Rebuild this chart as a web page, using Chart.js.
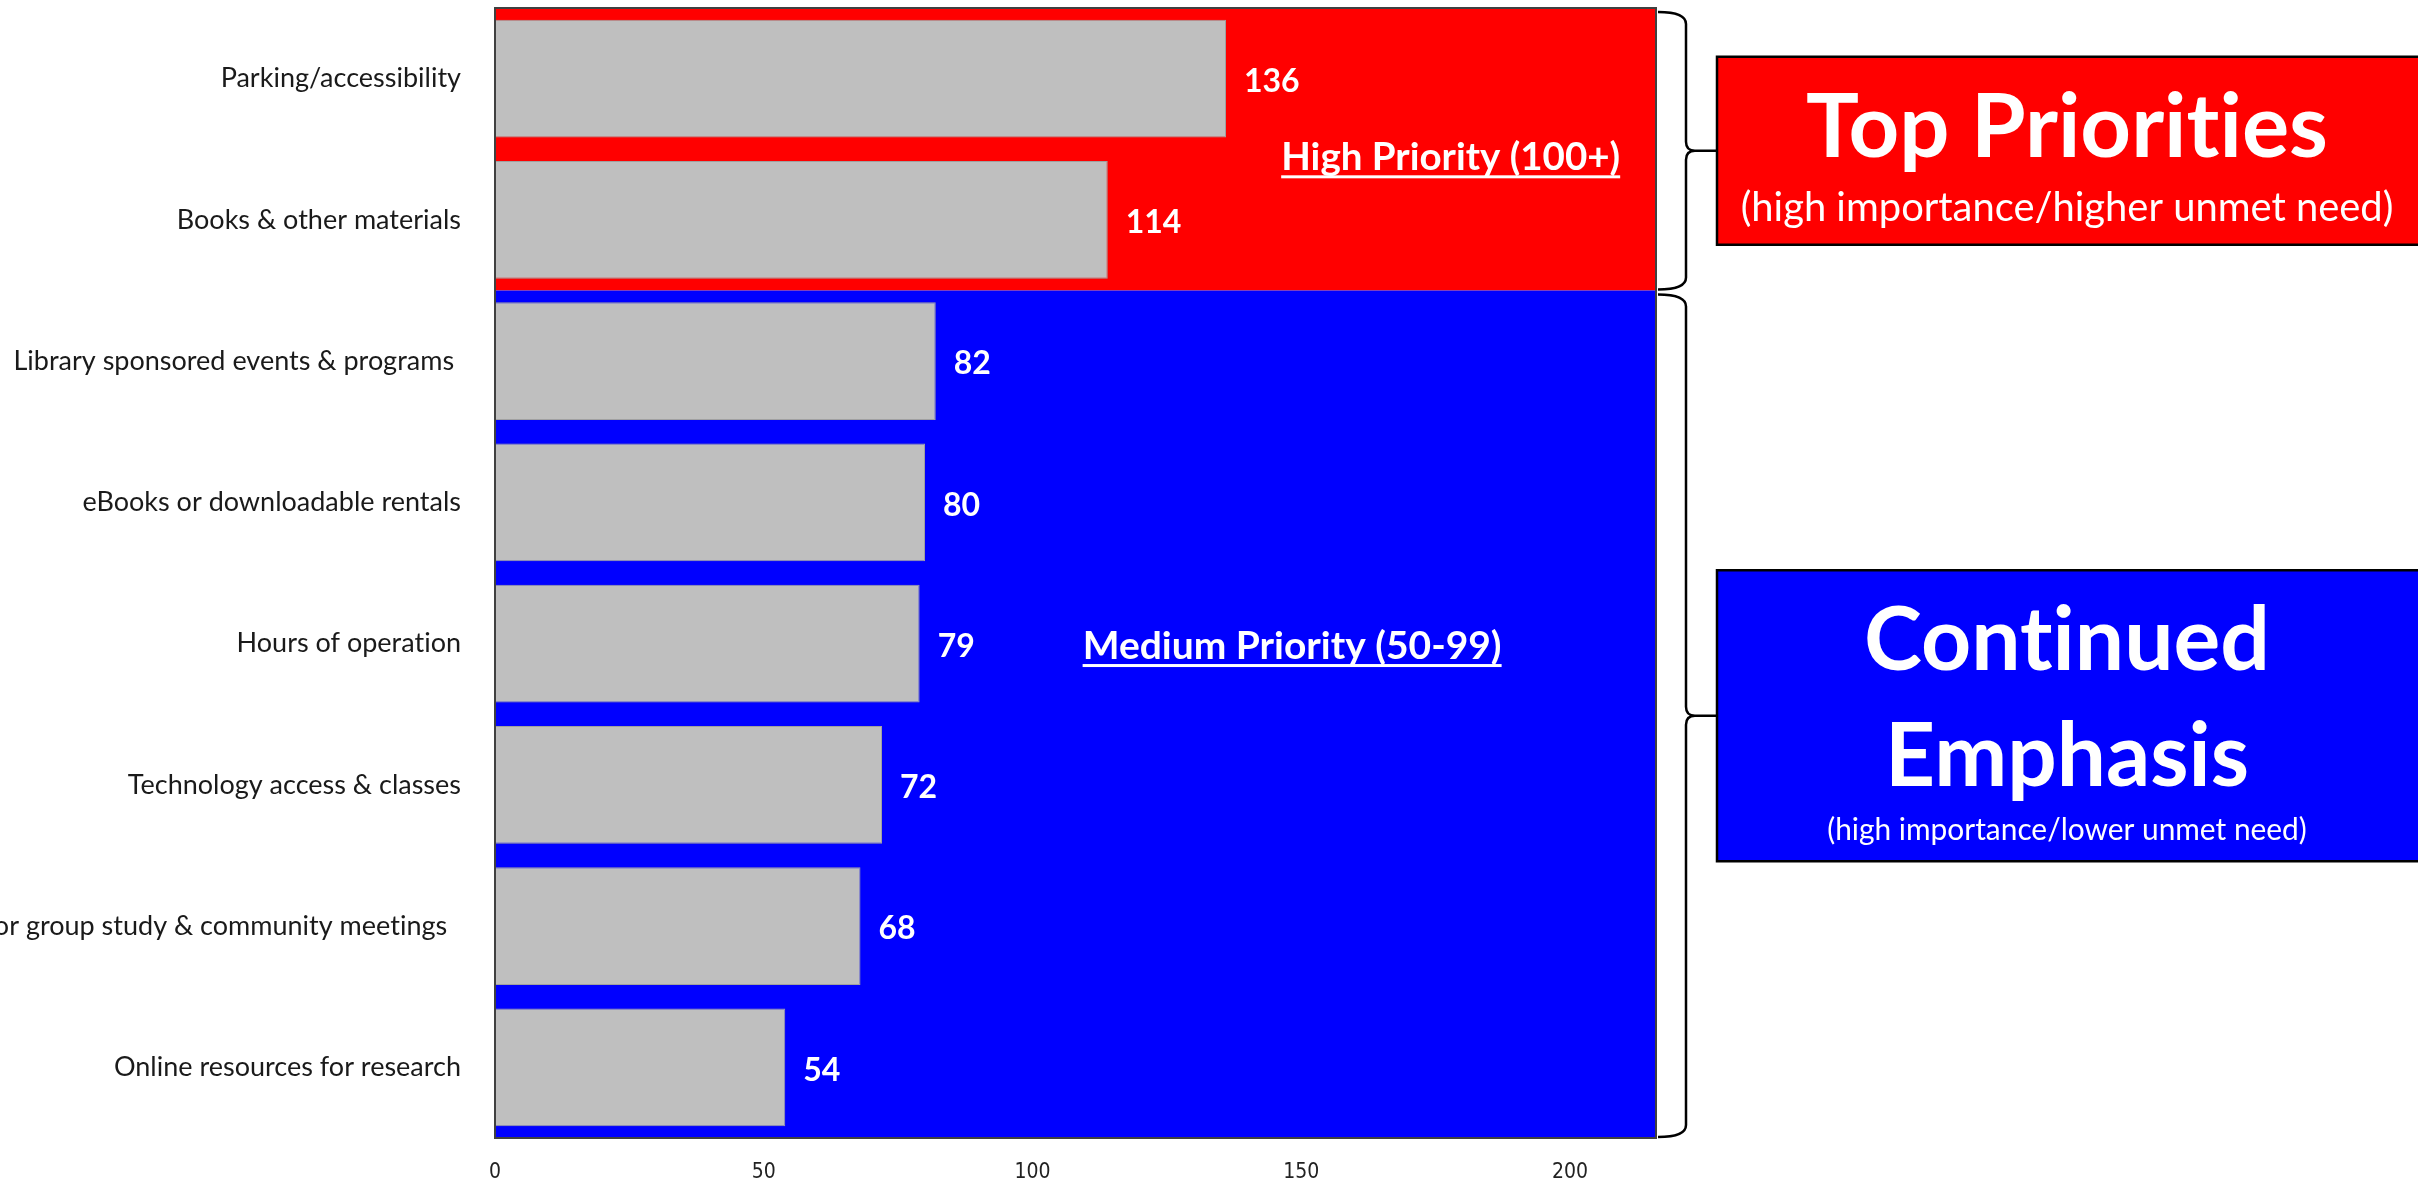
<!DOCTYPE html>
<html>
<head>
<meta charset="utf-8">
<title>Library service priorities</title>
<script src="https://cdn.jsdelivr.net/npm/chart.js@4.4.1/dist/chart.umd.min.js"></script>
<style>
  html, body { margin: 0; padding: 0; background: #fff; overflow: hidden; }
  canvas { display: block; }
</style>
</head>
<body>
<canvas id="myChart" width="2418" height="1184"></canvas>
<script>
// rows, top to bottom
const categories = [
    'Parking/accessibility',
    'Books & other materials',
    'Library sponsored events & programs ',
    'eBooks or downloadable rentals',
    'Hours of operation',
    'Technology access & classes',
    'Space for group study & community meetings  ',
    'Online resources for research'
];
const scores = [136, 114, 82, 80, 79, 72, 68, 54];
const xTicks = [0, 50, 100, 150, 200];
const xMax = 216;

// the two priority bands: how many rows each one covers
const bandRows = [2, 6];
const bandLabels = ['High Priority (100+)', 'Medium Priority (50-99)'];
const boxTitles = [['Top Priorities'], ['Continued', 'Emphasis']];
const boxNotes = ['(high importance/higher unmet need)', '(high importance/lower unmet need)'];

const bandColors = ['#ff0000', '#0000ff'];
const LABEL_FONT = 'Lato, "Open Sans", sans-serif';

// draw text centred on cx, sized so it spans `width` pixels
function fitText(ctx, text, cx, baseline, width, weight) {
    ctx.font = `${weight} 100px ${LABEL_FONT}`;
    const size = 100 * width / ctx.measureText(text).width;
    ctx.font = `${weight} ${size}px ${LABEL_FONT}`;
    ctx.textAlign = 'center';
    ctx.textBaseline = 'alphabetic';
    ctx.fillText(text, cx, baseline);
    return size;
}

function bandEdges(chart) {
    const y = chart.scales.y;
    const area = chart.chartArea;
    const edges = [];
    let start = 0;
    bandRows.forEach((rows) => {
        const top = Math.max(area.top, y.getPixelForValue(start - 0.5));
        const bottom = Math.min(area.bottom, y.getPixelForValue(start + rows - 0.5));
        edges.push({top, bottom});
        start += rows;
    });
    return edges;
}

function drawBrace(ctx, x0, top, bottom) {
    const spine = x0 + 28;
    const tip = x0 + 58;
    const mid = (top + bottom) / 2;
    ctx.beginPath();
    ctx.moveTo(x0, top);
    ctx.quadraticCurveTo(spine, top, spine, top + 12);
    ctx.lineTo(spine, mid - 9);
    ctx.quadraticCurveTo(spine, mid, spine + 9, mid);
    ctx.lineTo(tip, mid);
    ctx.moveTo(spine + 9, mid);
    ctx.quadraticCurveTo(spine, mid, spine, mid + 9);
    ctx.lineTo(spine, bottom - 12);
    ctx.quadraticCurveTo(spine, bottom, x0, bottom);
    ctx.stroke();
    return mid;
}

const priorityBands = {
    id: 'priorityBands',
    beforeDraw(chart) {
        // plain glyphs, no "ti" ligatures
        chart.ctx.textRendering = 'optimizeSpeed';
    },
    beforeDatasetsDraw(chart) {
        const ctx = chart.ctx;
        const area = chart.chartArea;
        ctx.save();
        bandEdges(chart).forEach((b, i) => {
            ctx.fillStyle = bandColors[i];
            ctx.fillRect(area.left, b.top, area.right - area.left, b.bottom - b.top);
        });
        ctx.restore();
    },
    afterDatasetsDraw(chart) {
        const ctx = chart.ctx;
        const area = chart.chartArea;
        const x = chart.scales.x;
        const y = chart.scales.y;
        ctx.save();

        // value labels at the end of each bar
        ctx.fillStyle = '#fff';
        ctx.font = `bold 32px ${LABEL_FONT}`;
        ctx.textAlign = 'left';
        ctx.textBaseline = 'middle';
        chart.getDatasetMeta(0).data.forEach((bar, i) => {
            ctx.fillText(String(scores[i]), bar.x + 18, bar.y + 3);
        });

        // underlined band captions
        const notePos = [[177.8, 0.55], [148.3, 4.01]];
        bandLabels.forEach((text, i) => {
            const cx = x.getPixelForValue(notePos[i][0]);
            const cy = y.getPixelForValue(notePos[i][1]);
            const w = i === 0 ? 339 : 419;
            ctx.fillStyle = '#fff';
            fitText(ctx, text, cx, cy + 14, w, 'bold');
            ctx.fillRect(cx - w / 2, cy + 19, w, 3);
        });

        ctx.strokeStyle = '#404040';
        ctx.lineWidth = 2;
        ctx.strokeRect(area.left, area.top, area.right - area.left, area.bottom - area.top);
        ctx.restore();
    },
    afterDraw(chart) {
        const ctx = chart.ctx;
        const area = chart.chartArea;
        const edges = bandEdges(chart);
        const boxLeft = area.right + 61;
        const boxHeights = [188, 291];
        const titleWidths = [[522], [406, 364]];
        const noteWidths = [653, 480];
        ctx.save();
        edges.forEach((b, i) => {
            ctx.strokeStyle = '#000';
            ctx.lineWidth = 2.5;
            const mid = drawBrace(ctx, area.right + 2, b.top + 4, b.bottom - 1);

            const top = mid - boxHeights[i] / 2;
            ctx.fillStyle = bandColors[i];
            ctx.fillRect(boxLeft, top, 800, boxHeights[i]);
            ctx.lineWidth = 2.5;
            ctx.strokeRect(boxLeft, top, 800, boxHeights[i]);

            const cx = boxLeft + 350;
            ctx.fillStyle = '#fff';
            boxTitles[i].forEach((line, k) => {
                fitText(ctx, line, cx, top + 100 + k * 116, titleWidths[i][k], 'bold');
            });
            const noteBase = i === 0 ? top + 164 : top + 270;
            fitText(ctx, boxNotes[i], cx, noteBase, noteWidths[i], 'normal');
        });
        ctx.restore();
    }
};

const ctx = document.getElementById('myChart').getContext('2d');
const myChart = new Chart(ctx, {
    type: 'bar',
    data: {
        labels: categories,
        datasets: [{
            data: scores,
            backgroundColor: '#bfbfbf',
            borderColor: '#a0a0a0',
            borderWidth: 1,
            barPercentage: 0.835,
            categoryPercentage: 1
        }]
    },
    options: {
        indexAxis: 'y',
        responsive: false,
        animation: false,
        layout: {
            padding: { top: 8, right: 762, bottom: 0, left: 0 }
        },
        plugins: {
            legend: { display: false },
            tooltip: { enabled: false }
        },
        scales: {
            x: {
                min: 0,
                max: xMax,
                grid: { display: false, drawTicks: false },
                border: { display: false },
                afterBuildTicks: (scale) => {
                    scale.ticks = xTicks.map(v => ({ value: v }));
                },
                afterFit: (scale) => {
                    scale.height = 46;
                    scale.paddingLeft = 0;
                    scale.paddingRight = 0;
                },
                ticks: {
                    padding: 22,
                    color: '#222',
                    font: { family: '"Liberation Sans Narrow", "DejaVu Sans Condensed", sans-serif', size: 21 }
                }
            },
            y: {
                grid: { display: false, drawTicks: false },
                border: { display: false },
                afterFit: (scale) => {
                    scale.width = 495;
                    scale.paddingTop = 0;
                    scale.paddingBottom = 0;
                },
                ticks: {
                    autoSkip: false,
                    padding: 34,
                    color: '#1a1a1a',
                    font: { family: LABEL_FONT, size: 27 }
                }
            }
        }
    },
    plugins: [priorityBands]
});
</script>
</body>
</html>
